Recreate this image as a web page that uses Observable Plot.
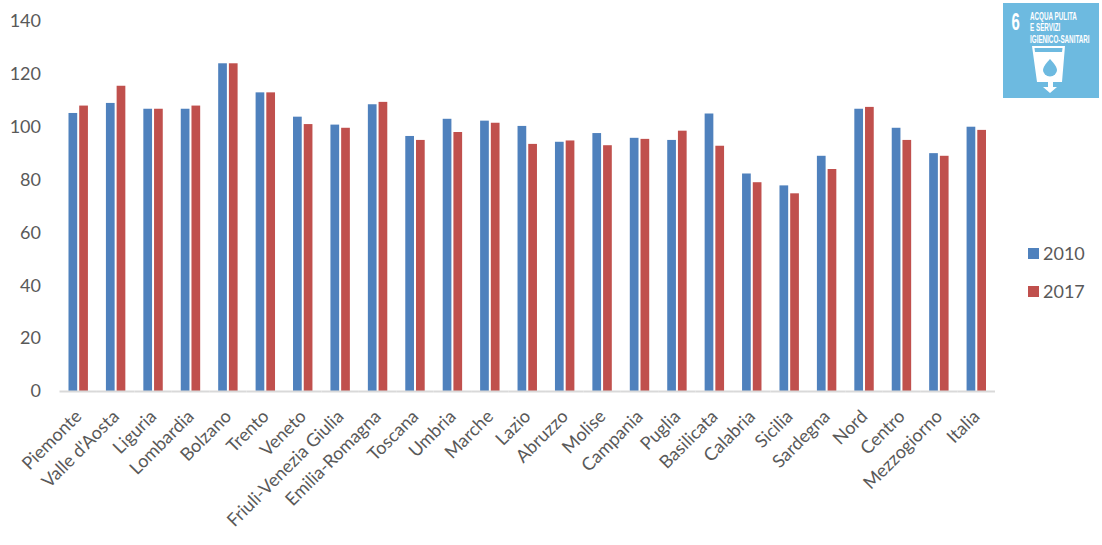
<!DOCTYPE html>
<html>
<head>
<meta charset="utf-8">
<script src="https://cdn.jsdelivr.net/npm/d3@7"></script>
<script src="https://cdn.jsdelivr.net/npm/@observablehq/plot@0.6"></script>
<style>
html,body{margin:0;padding:0;background:#fff;}
#wrap{position:relative;width:1102px;height:545px;overflow:hidden;font-family:Lato,"Open Sans",sans-serif;}
.leg{position:absolute;left:1028px;font-size:18px;color:#595959;line-height:20px;}
.leg i{position:absolute;left:0;top:5px;width:11px;height:11px;}
.leg span{position:absolute;left:15px;top:0;}
#badge{position:absolute;left:1003px;top:3px;}
</style>
</head>
<body>
<div id="wrap"></div>
<script>
const regions = ["Piemonte","Valle d'Aosta","Liguria","Lombardia","Bolzano","Trento","Veneto","Friuli-Venezia Giulia","Emilia-Romagna","Toscana","Umbria","Marche","Lazio","Abruzzo","Molise","Campania","Puglia","Basilicata","Calabria","Sicilia","Sardegna","Nord","Centro","Mezzogiorno","Italia"];
const values2010 = [105.2,109,106.8,106.8,124,113,103.8,100.8,108.5,96.5,103,102.3,100.3,94.3,97.6,95.8,95,105,82.3,77.8,89,106.8,99.6,90,100];
const values2017 = [108,115.5,106.8,108,124,113,101,99.6,109.4,95,98,101.5,93.5,94.8,93,95.4,98.5,92.8,79,74.8,84,107.5,95,89,98.8];
const years = ["2010","2017"];
const colors = ["#4F81BD","#C0504D"];
const yTicks = [0,20,40,60,80,100,120,140];

const rows = regions.flatMap((r,i)=>[
  {region:r, year:years[0], value:values2010[i]},
  {region:r, year:years[1], value:values2017[i]}
]);

const chart = Plot.plot({
  width:1102, height:545,
  marginLeft:59.5, marginRight:107, marginTop:21, marginBottom:154,
  style:{fontFamily:"Lato, 'Open Sans', sans-serif", background:"#fff"},
  fx:{domain:regions, padding:0, round:false, label:null},
  x:{domain:years, axis:null, round:false, paddingInner:.187, paddingOuter:.84},
  y:{domain:[0,140], ticks:yTicks, label:null},
  color:{domain:years, range:colors},
  marks:[
    Plot.axisFx({anchor:"bottom", domain:regions, tickRotate:-45, tickSize:0, tickPadding:22, fontSize:18, label:null, fill:"#595959"}),
    Plot.axisY({ticks:yTicks, tickSize:0, tickPadding:19, fontSize:18, label:null, fill:"#595959"}),
    Plot.barY(rows,{fx:"region", x:"year", y:"value", fill:"year"}),
    Plot.ruleY([0],{stroke:"#D9D9D9", strokeWidth:2})
  ]
});
const wrap = document.getElementById("wrap");
wrap.appendChild(chart);

years.forEach((y,i)=>{
  const d=document.createElement("div");
  d.className="leg";
  d.style.top=(243+i*37.5)+"px";
  d.innerHTML=`<i style="background:${colors[i]}"></i><span>${y}</span>`;
  wrap.appendChild(d);
});

const badge=document.createElement("div");
badge.id="badge";
badge.innerHTML=`<svg width="96" height="95" viewBox="0 0 96 95" xmlns="http://www.w3.org/2000/svg">
<rect width="96" height="95" fill="#6DBAE0"/>
<g fill="#fff" font-family="'Liberation Sans Narrow','Liberation Sans',sans-serif" font-weight="700">
<text transform="translate(8.5,27) scale(.62,1)" font-size="24">6</text>
<text transform="translate(27,17) scale(.6,1)" font-size="10.5">ACQUA PULITA</text>
<text transform="translate(27,28) scale(.6,1)" font-size="10.5">E SERVIZI</text>
<text transform="translate(27,40) scale(.6,1)" font-size="10.5">IGIENICO-SANITARI</text>
</g>
<path d="M29 43H62L59 79H50V84H54L47 90L40 84H45V79H34Z" fill="#fff"/>
<path d="M31.5 45H59.5L59 49H32Z" fill="#6DBAE0"/>
<path d="M47 56C47 56 40 63 40 67A7 6.5 0 0 0 54 67C54 63 47 56 47 56Z" fill="#6DBAE0"/>
</svg>`;
wrap.appendChild(badge);
</script>
</body>
</html>
